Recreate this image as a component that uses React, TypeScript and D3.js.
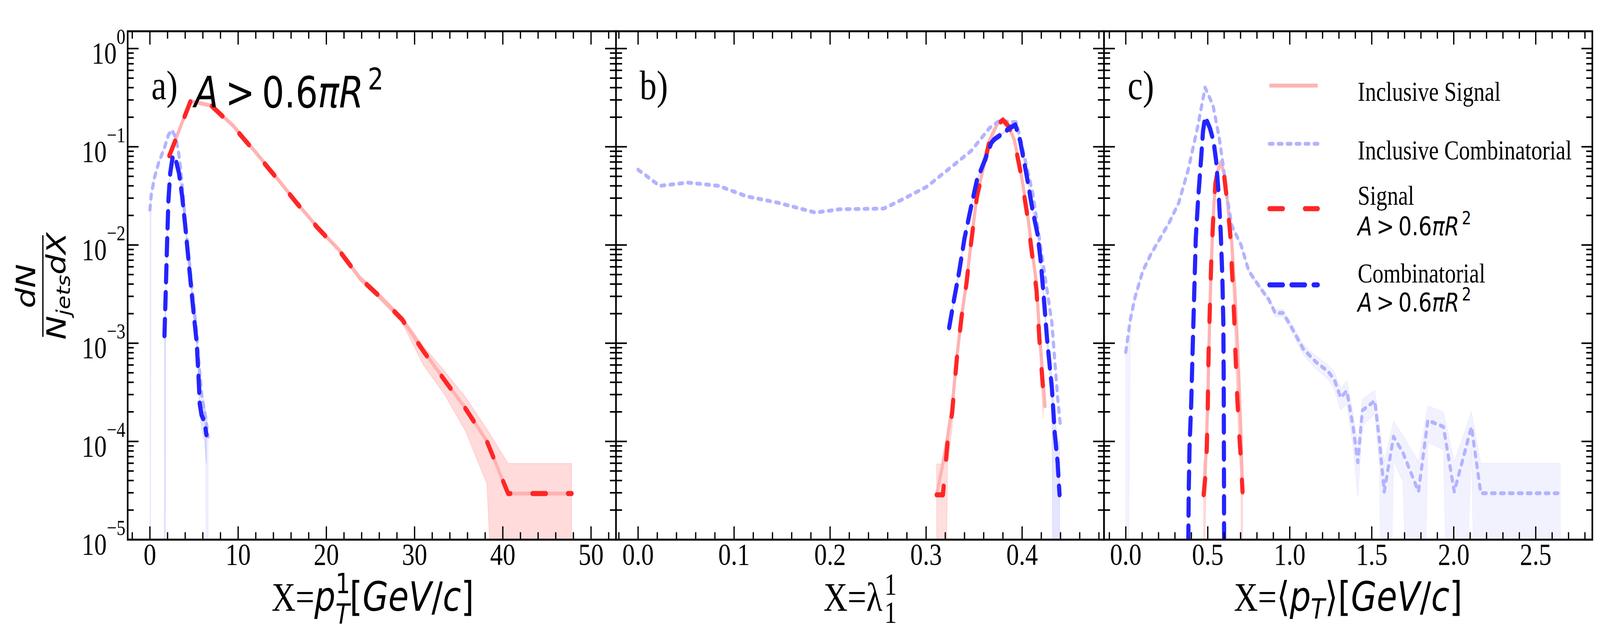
import React from 'react';
import * as d3 from 'd3';

// ---------- data: panel a, X = pT^1 [GeV/c] ----------
const sigA_x = [2.2, 4.6, 7.0, 9.4, 11.8, 14.2, 16.6, 19.0, 21.4, 23.8, 26.2, 28.6, 31.0, 33.4, 35.8, 38.2, 40.6, 43.0, 45.4, 47.8];
const sigA_y = [0.081, 0.29, 0.26, 0.163, 0.091, 0.05, 0.027, 0.015, 0.0089, 0.0046, 0.0029, 0.00174, 0.00083, 0.00042, 0.000214, 0.0001, 2.95e-5, 2.95e-5, 2.95e-5, 2.95e-5];
const sigA_hi = [0.084, 0.3, 0.268, 0.168, 0.094, 0.052, 0.028, 0.0156, 0.0093, 0.0049, 0.0031, 0.00188, 0.00093, 0.00052, 0.00028, 0.000133, 5.96e-5, 5.96e-5, 5.96e-5, 5.96e-5];
const sigA_lo = [0.078, 0.28, 0.252, 0.158, 0.088, 0.048, 0.026, 0.0144, 0.0085, 0.0043, 0.0027, 0.0016, 0.0006, 0.0003, 0.000126, 3.7e-5, 0, 0, 0, 0];
const inclSigA_y = [0.082, 0.292, 0.262, 0.165, 0.092, 0.0505, 0.0272, 0.0151, 0.009, 0.0046, 0.0029, 0.00175, 0.00084, 0.00042, 0.000216, 0.0001, 2.95e-5, 2.95e-5, 2.95e-5, 2.95e-5];

const combA_x = [1.65, 1.8, 1.95, 2.1, 2.3, 2.6, 2.95, 3.3, 3.65, 4.0, 4.35, 4.7, 5.0, 5.3, 5.5, 5.65, 5.85, 6.2, 6.4];
const combA_y = [0.00119, 0.00347, 0.0107, 0.0288, 0.0537, 0.0813, 0.0724, 0.0537, 0.0316, 0.0158, 0.0074, 0.00347, 0.00186, 0.00102, 0.00048, 0.00024, 0.000186, 0.000158, 0.000117];
const combA_hi = [0.00128, 0.0037, 0.0112, 0.0298, 0.0553, 0.0835, 0.0745, 0.0553, 0.0327, 0.0165, 0.0078, 0.0037, 0.002, 0.0011, 0.00053, 0.00028, 0.00024, 0.00022, 0.00017];
const combA_lo = [0, 0.00324, 0.0102, 0.0278, 0.0521, 0.0791, 0.0703, 0.0521, 0.0305, 0.0151, 0.007, 0.00324, 0.00172, 0.00094, 0.00043, 0.0002, 0.000135, 0.0001, 5.9e-5];

const inclCombA_x = [0.0, 0.15, 0.5, 1.0, 1.65, 2.1, 2.5, 2.95, 3.25, 3.5, 3.8, 4.1, 4.5, 4.9, 5.3, 5.6, 5.9, 6.3, 6.6];
const inclCombA_y = [0.0229, 0.0324, 0.0479, 0.0692, 0.0977, 0.132, 0.148, 0.123, 0.0871, 0.0575, 0.0288, 0.0141, 0.0063, 0.00282, 0.00126, 0.00056, 0.00028, 0.000178, 0.000112];
const inclCombA_hi = [0.0236, 0.0332, 0.049, 0.0706, 0.0995, 0.134, 0.15, 0.125, 0.0887, 0.0588, 0.0296, 0.0146, 0.0066, 0.003, 0.00137, 0.00063, 0.00033, 0.00022, 0.00015];
const inclCombA_lo = [0, 0.0316, 0.0468, 0.0678, 0.0959, 0.13, 0.146, 0.121, 0.0855, 0.0562, 0.028, 0.0136, 0.006, 0.00264, 0.00115, 0.00049, 0.00023, 0.000136, 0];

// ---------- data: panel b, X = lambda_1^1 ----------
const sigB_x = [0.311, 0.3175, 0.3223, 0.327, 0.332, 0.337, 0.342, 0.347, 0.353, 0.36, 0.366, 0.374, 0.38, 0.386, 0.392, 0.398, 0.405, 0.41, 0.415, 0.418, 0.422];
const sigB_y = [2.86e-5, 2.86e-5, 9.66e-5, 1.91e-4, 6.98e-4, 1.88e-3, 4.02e-3, 0.0108, 0.0313, 0.0622, 0.1143, 0.167, 0.1875, 0.161, 0.1143, 0.0577, 0.0214, 0.0086, 0.00345, 0.0011, 0.000324];
const sigB_hi = [5.9e-5, 5.9e-5, 1.4e-4, 2.5e-4, 7.9e-4, 2.0e-3, 4.2e-3, 0.0112, 0.0322, 0.0636, 0.1165, 0.17, 0.1905, 0.1638, 0.1165, 0.0591, 0.0222, 0.0091, 0.0037, 0.0013, 0.00048];
const sigB_lo = [0, 0, 5.5e-5, 1.35e-4, 6.1e-4, 1.76e-3, 3.84e-3, 0.0104, 0.0304, 0.0608, 0.1121, 0.164, 0.1845, 0.1582, 0.1121, 0.0563, 0.0206, 0.0081, 0.0032, 0.0009, 0.00017];
const inclSigB_x = [0.311, 0.3175, 0.3223, 0.327, 0.332, 0.337, 0.342, 0.347, 0.353, 0.36, 0.366, 0.374, 0.38, 0.386, 0.392, 0.398, 0.405, 0.41, 0.415, 0.418, 0.422, 0.424];
const inclSigB_y = [2.86e-5, 6.0e-5, 1.1e-4, 2.2e-4, 7.2e-4, 1.9e-3, 4.1e-3, 0.011, 0.032, 0.063, 0.116, 0.17, 0.19, 0.163, 0.116, 0.06, 0.023, 0.0095, 0.004, 0.0013, 0.0004, 0.00022];

const combB_x = [0.324, 0.329, 0.334, 0.34, 0.347, 0.353, 0.361, 0.368, 0.371, 0.379, 0.387, 0.393, 0.398, 0.405, 0.411, 0.416, 0.419, 0.422, 0.426, 0.431, 0.434, 0.437, 0.439];
const combB_y = [1.44e-3, 2.75e-3, 5.05e-3, 0.01167, 0.0249, 0.0459, 0.0724, 0.11, 0.119, 0.135, 0.155, 0.167, 0.1143, 0.0495, 0.0223, 0.01306, 0.0074, 0.00345, 0.0011, 0.000352, 0.000121, 6.12e-5, 2.86e-5];
const combB_hi = [1.55e-3, 2.9e-3, 5.25e-3, 0.012, 0.0255, 0.0468, 0.0736, 0.1115, 0.1205, 0.1367, 0.1568, 0.169, 0.116, 0.0505, 0.0229, 0.0136, 0.0078, 0.0037, 0.00125, 0.00045, 0.00018, 0.0001, 0.0001];
const combB_lo = [1.33e-3, 2.6e-3, 4.85e-3, 0.01134, 0.0243, 0.045, 0.0712, 0.1085, 0.1175, 0.1333, 0.1532, 0.165, 0.1126, 0.0485, 0.0217, 0.0125, 0.007, 0.0032, 0.00095, 0.00026, 0, 0, 0];

const inclCombB_x = [0.0, 0.0224, 0.052, 0.084, 0.113, 0.146, 0.1845, 0.21, 0.256, 0.275, 0.301, 0.324, 0.347, 0.366, 0.376, 0.394, 0.398, 0.411, 0.421, 0.431, 0.437, 0.44];
const inclCombB_y = [0.0585, 0.04, 0.0432, 0.04, 0.0313, 0.0269, 0.0214, 0.0231, 0.0235, 0.029, 0.0394, 0.0598, 0.091, 0.155, 0.183, 0.178, 0.123, 0.0339, 0.0074, 0.00162, 0.00028, 0.000141];

// ---------- data: panel c, X = <pT> [GeV/c] ----------
const sigC_x = [0.475, 0.484, 0.494, 0.5, 0.505, 0.513, 0.522, 0.535, 0.547, 0.57, 0.598, 0.617, 0.636, 0.649, 0.661, 0.668, 0.68, 0.693, 0.703, 0.712];
const sigC_y = [2.86e-5, 4.17e-5, 8.32e-5, 2.24e-4, 7.59e-4, 2.36e-3, 7.4e-3, 0.0214, 0.0426, 0.0671, 0.0535, 0.029, 0.0136, 5.05e-3, 1.88e-3, 8.77e-4, 2.8e-4, 1.12e-4, 6.12e-5, 3.08e-5];
const sigC_hi = [5.9e-5, 7e-5, 1.15e-4, 2.7e-4, 8.3e-4, 2.5e-3, 7.7e-3, 0.0219, 0.0433, 0.068, 0.0543, 0.0296, 0.014, 5.3e-3, 2.0e-3, 9.6e-4, 3.3e-4, 1.5e-4, 9e-5, 6.2e-5];
const sigC_lo = [0, 1.3e-5, 5.1e-5, 1.78e-4, 6.9e-4, 2.22e-3, 7.1e-3, 0.0209, 0.0419, 0.0662, 0.0527, 0.0284, 0.0132, 4.8e-3, 1.76e-3, 7.9e-4, 2.3e-4, 7.4e-5, 3.2e-5, 0];
const inclSigC_x = [0.475, 0.49, 0.5, 0.508, 0.516, 0.525, 0.537, 0.55, 0.579, 0.605, 0.623, 0.646, 0.665, 0.684, 0.703, 0.712];
const inclSigC_y = [2.86e-5, 7.94e-5, 2.51e-4, 1.0e-3, 3.16e-3, 8.91e-3, 0.0251, 0.0501, 0.0697, 0.0501, 0.0249, 0.0108, 3.45e-3, 7.53e-4, 1.12e-4, 2.86e-5];

const combC_x = [0.38, 0.384, 0.389, 0.399, 0.408, 0.418, 0.427, 0.441, 0.46, 0.471, 0.484, 0.513, 0.535, 0.551, 0.566, 0.579, 0.589, 0.595, 0.597, 0.598, 0.599, 0.6];
const combC_y = [5e-6, 3.09e-5, 8.95e-5, 2.4e-4, 8.77e-4, 3.45e-3, 0.01167, 0.029, 0.0782, 0.1435, 0.2023, 0.155, 0.1143, 0.0724, 0.0339, 0.01358, 4.68e-3, 1.61e-3, 5.15e-4, 1.64e-4, 3.59e-5, 5e-6];

const inclCombC_x = [0.0, 0.028, 0.057, 0.104, 0.152, 0.209, 0.266, 0.323, 0.38, 0.437, 0.484, 0.532, 0.57, 0.598, 0.617, 0.646, 0.703, 0.75, 0.817, 0.874, 0.911, 0.959, 1.007, 1.082, 1.158, 1.234, 1.272, 1.31, 1.348, 1.386, 1.415, 1.443, 1.519, 1.548, 1.576, 1.633, 1.69, 1.785, 1.842, 1.937, 2.003, 2.108, 2.165, 2.25, 2.35, 2.45, 2.55, 2.65];
const inclCombC_y = [8.13e-4, 1.74e-3, 2.96e-3, 5.45e-3, 7.98e-3, 0.01167, 0.01706, 0.0269, 0.0577, 0.155, 0.401, 0.264, 0.123, 0.0577, 0.0313, 0.0158, 0.01, 5.45e-3, 3.72e-3, 2.75e-3, 2.03e-3, 2.03e-3, 1.49e-3, 8.77e-4, 6.47e-4, 5.15e-4, 4.26e-4, 2.8e-4, 3.27e-4, 1.41e-4, 6.12e-5, 2.07e-4, 2.59e-4, 9.66e-5, 3.08e-5, 1.12e-4, 7.69e-5, 3.08e-5, 1.64e-4, 1.41e-4, 3.08e-5, 1.41e-4, 2.97e-5, 2.97e-5, 2.97e-5, 2.97e-5, 2.97e-5, 2.97e-5];
const inclCombC_hi = [8.6e-4, 1.82e-3, 3.08e-3, 5.62e-3, 8.2e-3, 0.0119, 0.0174, 0.0273, 0.0583, 0.156, 0.403, 0.266, 0.124, 0.0583, 0.0318, 0.0162, 0.0103, 5.65e-3, 3.9e-3, 2.9e-3, 2.2e-3, 2.2e-3, 1.63e-3, 9.8e-4, 7.4e-4, 6.0e-4, 5.1e-4, 3.5e-4, 4.1e-4, 1.95e-4, 9.5e-5, 2.7e-4, 3.3e-4, 1.4e-4, 6.2e-5, 1.6e-4, 1.15e-4, 6.2e-5, 2.3e-4, 2.0e-4, 6.2e-5, 2.0e-4, 6.0e-5, 6.0e-5, 6.0e-5, 6.0e-5, 6.0e-5, 6.0e-5];
const inclCombC_lo = [0, 1.66e-3, 2.84e-3, 5.28e-3, 7.76e-3, 0.01144, 0.01672, 0.0265, 0.0571, 0.154, 0.399, 0.262, 0.122, 0.0571, 0.0308, 0.0154, 0.0097, 5.25e-3, 3.54e-3, 2.6e-3, 1.86e-3, 1.86e-3, 1.35e-3, 7.7e-4, 5.5e-4, 4.3e-4, 3.4e-4, 2.1e-4, 2.4e-4, 8.7e-5, 2.7e-5, 1.45e-4, 1.9e-4, 5.3e-5, 0, 6.4e-5, 3.9e-5, 0, 9.8e-5, 8.2e-5, 0, 8.2e-5, 0, 0, 0, 0, 0, 0];

// ---------- axes text ----------
const xTicksA = [0, 10, 20, 30, 40, 50];
const xTicksB = [0.0, 0.1, 0.2, 0.3, 0.4];
const xTicksC = [0.0, 0.5, 1.0, 1.5, 2.0, 2.5];
const yTickExps = [0, -1, -2, -3, -4, -5];
const panelTags = ['a)', 'b)', 'c)'];
const legendLabels = ['Inclusive Signal', 'Inclusive Combinatorial', 'Signal', 'Combinatorial'];

// ---------- layout (drawn in a 5000x1625 box, stretched to the window) ----------
const W = 5000;
const H = 1625;
const TOP = 80;
const BOTTOM = 1381;
const SERIF = '"Liberation Serif", "Times New Roman", serif';
const SANS = '"DejaVu Sans", sans-serif';
const RED = '#ff2626';
const BLUE = '#2424ff';
const LRED = '#ffb3b3';
const LBLUE = '#b3b3ff';

const yScale = d3.scaleLog().domain([1e-5, 1.5]).range([BOTTOM, TOP]);
const yPix = (v: number) => yScale(Math.max(v, 1e-9));

type Band = { x: number[]; hi: number[]; lo: number[]; fill: string };
type Series = { x: number[]; y: number[]; kind: 'inclSig' | 'inclComb' | 'sig' | 'comb' };

const styles: Record<string, any> = {
  inclSig: { stroke: LRED, strokeWidth: 10 },
  inclComb: { stroke: LBLUE, strokeWidth: 10, strokeDasharray: '11 17', strokeLinecap: 'round' },
  sig: { stroke: RED, strokeWidth: 13, strokeDasharray: '42 69', strokeLinecap: 'round' },
  comb: { stroke: BLUE, strokeWidth: 13, strokeDasharray: '42 27', strokeLinecap: 'round' },
};

const panels = [
  {
    left: 399, right: 1925, dom: [-2.52, 52.83], ticks: xTicksA, minorStep: 2, fmt: d3.format('d'),
    bands: [
      { x: inclCombA_x, hi: inclCombA_hi, lo: inclCombA_lo, fill: 'rgba(0,0,255,0.06)' },
      { x: combA_x, hi: combA_hi, lo: combA_lo, fill: 'rgba(0,0,255,0.1)' },
      { x: sigA_x, hi: sigA_hi, lo: sigA_lo, fill: 'rgba(255,0,0,0.14)' },
    ] as Band[],
    series: [
      { x: sigA_x, y: inclSigA_y, kind: 'inclSig' },
      { x: inclCombA_x, y: inclCombA_y, kind: 'inclComb' },
      { x: sigA_x, y: sigA_y, kind: 'sig' },
      { x: combA_x, y: combA_y, kind: 'comb' },
    ] as Series[],
  },
  {
    left: 1925, right: 3450, dom: [-0.023, 0.4853], ticks: xTicksB, minorStep: 0.02, fmt: d3.format('.1f'),
    bands: [
      { x: combB_x, hi: combB_hi, lo: combB_lo, fill: 'rgba(0,0,255,0.1)' },
      { x: sigB_x, hi: sigB_hi, lo: sigB_lo, fill: 'rgba(255,0,0,0.13)' },
    ] as Band[],
    series: [
      { x: inclSigB_x, y: inclSigB_y, kind: 'inclSig' },
      { x: inclCombB_x, y: inclCombB_y, kind: 'inclComb' },
      { x: sigB_x, y: sigB_y, kind: 'sig' },
      { x: combB_x, y: combB_y, kind: 'comb' },
    ] as Series[],
  },
  {
    left: 3450, right: 4976, dom: [-0.1327, 2.845], ticks: xTicksC, minorStep: 0.1, fmt: d3.format('.1f'),
    bands: [
      { x: inclCombC_x, hi: inclCombC_hi, lo: inclCombC_lo, fill: 'rgba(0,0,255,0.05)' },
      { x: sigC_x, hi: sigC_hi, lo: sigC_lo, fill: 'rgba(255,0,0,0.13)' },
    ] as Band[],
    series: [
      { x: inclSigC_x, y: inclSigC_y, kind: 'inclSig' },
      { x: inclCombC_x, y: inclCombC_y, kind: 'inclComb' },
      { x: sigC_x, y: sigC_y, kind: 'sig' },
      { x: combC_x, y: combC_y, kind: 'comb' },
    ] as Series[],
  },
];

const yMajor = yTickExps.map((e) => Math.pow(10, e));
const yMinor: number[] = [];
for (let e = -5; e < 0; e++) for (let k = 2; k <= 9; k++) yMinor.push(k * Math.pow(10, e));

const MAJ = 34;
const MIN = 19;

// A > 0.6 pi R^2 in mathtext style
const AreaCut = ({ x, y, size }: { x: number; y: number; size: number }) => (
  <text x={x} y={y} fontFamily={SANS} fontSize={size}>
    <tspan fontStyle="italic">A</tspan>
    <tspan dx={size * 0.2}>&gt;</tspan>
    <tspan dx={size * 0.2}>0.6</tspan>
    <tspan fontStyle="italic">π</tspan>
    <tspan fontStyle="italic">R</tspan>
    <tspan fontSize={size * 0.7} dx={size * 0.12} dy={-size * 0.42}>2</tspan>
  </text>
);

const Panel = ({ p, i }: { p: (typeof panels)[number]; i: number }) => {
  const x = d3.scaleLinear().domain(p.dom).range([p.left, p.right]);
  const minors = d3
    .range(Math.ceil(p.dom[0] / p.minorStep) * p.minorStep, p.dom[1], p.minorStep)
    .filter((t) => !p.ticks.some((m) => Math.abs(m - t) < p.minorStep / 10));
  const area = (b: Band) =>
    d3
      .area<number>()
      .x((_, j) => x(b.x[j]))
      .y0((_, j) => yPix(b.lo[j]))
      .y1((_, j) => yPix(b.hi[j]))(b.hi) as string;
  const line = (s: Series) =>
    d3
      .line<number>()
      .x((_, j) => x(s.x[j]))
      .y((d) => yPix(d))(s.y) as string;
  return (
    <g>
      <defs>
        <clipPath id={`clip${i}`}>
          <rect x={p.left} y={TOP} width={p.right - p.left} height={BOTTOM - TOP} />
        </clipPath>
      </defs>
      <g clipPath={`url(#clip${i})`}>
        {p.bands.map((b, k) => (
          <path key={k} d={area(b)} fill={b.fill} stroke={b.fill} strokeWidth={2} />
        ))}
        {p.series.map((s, k) => (
          <path key={k} d={line(s)} fill="none" strokeLinejoin="round" {...styles[s.kind]} />
        ))}
      </g>
      {p.ticks.map((t) => (
        <g key={`M${t}`}>
          <line x1={x(t)} x2={x(t)} y1={BOTTOM} y2={BOTTOM - MAJ} stroke="#000" strokeWidth={4} />
          <line x1={x(t)} x2={x(t)} y1={TOP} y2={TOP + MAJ} stroke="#000" strokeWidth={4} />
          <text x={x(t)} y={1445} textAnchor="middle" fontFamily={SERIF} fontSize={79}>
            {p.fmt(t)}
          </text>
        </g>
      ))}
      {minors.map((t) => (
        <g key={`m${t}`}>
          <line x1={x(t)} x2={x(t)} y1={BOTTOM} y2={BOTTOM - MIN} stroke="#000" strokeWidth={4} />
          <line x1={x(t)} x2={x(t)} y1={TOP} y2={TOP + MIN} stroke="#000" strokeWidth={4} />
        </g>
      ))}
      {yMajor.map((v) => (
        <g key={`Y${v}`}>
          <line x1={p.left} x2={p.left + MAJ} y1={yScale(v)} y2={yScale(v)} stroke="#000" strokeWidth={4} />
          <line x1={p.right} x2={p.right - MAJ} y1={yScale(v)} y2={yScale(v)} stroke="#000" strokeWidth={4} />
        </g>
      ))}
      {yMinor.map((v) => (
        <g key={`y${v}`}>
          <line x1={p.left} x2={p.left + MIN} y1={yScale(v)} y2={yScale(v)} stroke="#000" strokeWidth={4} />
          <line x1={p.right} x2={p.right - MIN} y1={yScale(v)} y2={yScale(v)} stroke="#000" strokeWidth={4} />
        </g>
      ))}
      <rect x={p.left} y={TOP} width={p.right - p.left} height={BOTTOM - TOP} fill="none" stroke="#000" strokeWidth={5} />
      <text x={p.left + 74} y={254} fontFamily={SERIF} fontSize={106}>
        {panelTags[i]}
      </text>
    </g>
  );
};

const App: React.FC = () => {
  const legendY = [219, 368, 534, 729];
  const kinds = ['inclSig', 'inclComb', 'sig', 'comb'];
  return (
    <svg
      viewBox={`0 0 ${W} ${H}`}
      preserveAspectRatio="none"
      style={{ position: 'absolute', left: 0, top: 0, width: '100vw', height: '100vh', display: 'block' }}
    >
      <rect width={W} height={H} fill="#fff" />
      {panels.map((p, i) => (
        <Panel key={i} p={p} i={i} />
      ))}

      {yTickExps.map((e) => (
        <text key={e} x={392} y={yScale(Math.pow(10, e)) + 38} textAnchor="end" fontFamily={SERIF} fontSize={78}>
          <tspan>10</tspan>
          <tspan fontSize={55} dy={-50}>{e === 0 ? '0' : `\u2212${-e}`}</tspan>
        </text>
      ))}

      <g transform="translate(134,732) rotate(-90)">
        <line x1={-130} x2={130} y1={0} y2={0} stroke="#000" strokeWidth={4} />
        <text x={0} y={-24} textAnchor="middle" fontFamily={SANS} fontStyle="italic" fontSize={82}>
          dN
        </text>
        <text x={0} y={71} textAnchor="middle" fontFamily={SANS} fontStyle="italic" fontSize={82}>
          <tspan>N</tspan>
          <tspan fontSize={58} dy={13}>jets</tspan>
          <tspan dy={-13}>dX</tspan>
        </text>
      </g>

      <text x={1165} y={1563} textAnchor="middle" fontSize={104} fontFamily={SANS}>
        <tspan fontFamily={SERIF}>X=</tspan>
        <tspan fontStyle="italic">p</tspan>
        <tspan fontSize={72} dy={-45}>1</tspan>
        <tspan fontSize={72} fontStyle="italic" dx={-46} dy={78}>T</tspan>
        <tspan dy={-33}>[</tspan>
        <tspan fontStyle="italic">GeV</tspan>
        <tspan>/</tspan>
        <tspan fontStyle="italic">c</tspan>
        <tspan>]</tspan>
      </text>
      <text x={2688} y={1563} textAnchor="middle" fontSize={104} fontFamily={SERIF}>
        <tspan>X=</tspan>
        <tspan>λ</tspan>
        <tspan fontSize={78} dx={6} dy={-42}>1</tspan>
        <tspan fontSize={78} dx={-39} dy={72}>1</tspan>
      </text>
      <text x={4213} y={1563} textAnchor="middle" fontSize={104} fontFamily={SANS}>
        <tspan fontFamily={SERIF}>X=</tspan>
        <tspan>⟨</tspan>
        <tspan fontStyle="italic">p</tspan>
        <tspan fontSize={72} fontStyle="italic" dy={20}>T</tspan>
        <tspan dy={-20}>⟩[</tspan>
        <tspan fontStyle="italic">GeV</tspan>
        <tspan>/</tspan>
        <tspan fontStyle="italic">c</tspan>
        <tspan>]</tspan>
      </text>

      <AreaCut x={607} y={275} size={110} />

      {kinds.map((k, i) => (
        <line key={k} x1={3967} x2={4118} y1={legendY[i]} y2={legendY[i]} {...styles[k]} />
      ))}
      <text x={4243} y={258} fontFamily={SERIF} fontSize={69}>{legendLabels[0]}</text>
      <text x={4243} y={408} fontFamily={SERIF} fontSize={69}>{legendLabels[1]}</text>
      <text x={4243} y={524} fontFamily={SERIF} fontSize={69}>{legendLabels[2]}</text>
      <AreaCut x={4243} y={602} size={66} />
      <text x={4243} y={723} fontFamily={SERIF} fontSize={69}>{legendLabels[3]}</text>
      <AreaCut x={4243} y={797} size={66} />
    </svg>
  );
};

export default App;
